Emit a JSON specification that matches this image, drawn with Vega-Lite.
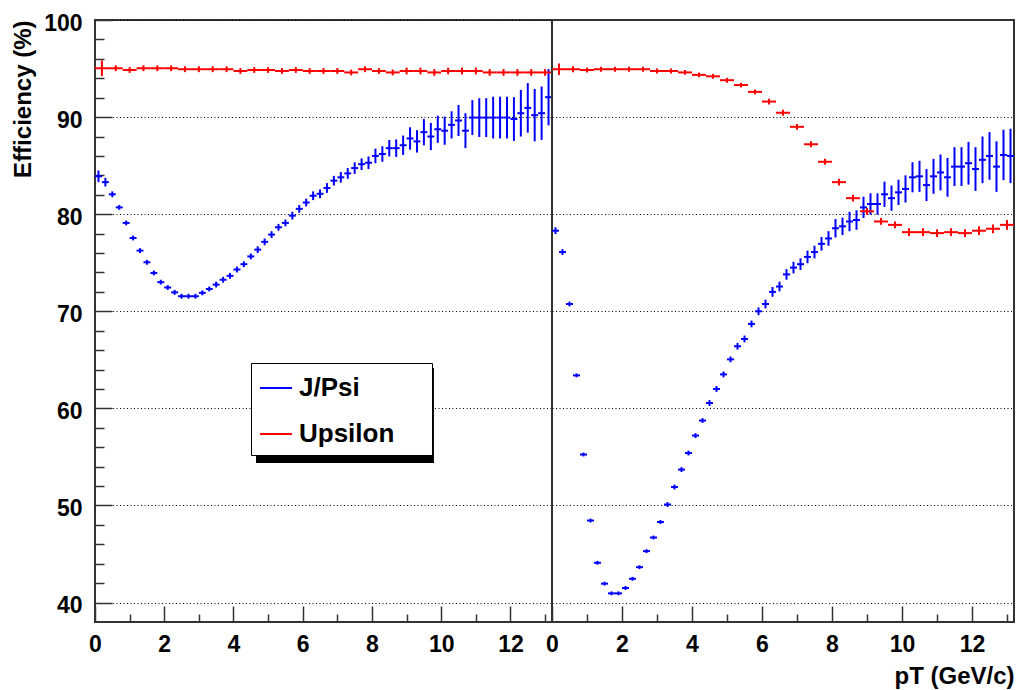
{
  "$schema": "https://vega.github.io/schema/vega-lite/v6.json",
  "background": "white",
  "padding": {"left": 10, "top": 11, "right": 0, "bottom": 0},
  "spacing": 0,
  "bounds": "flush",
  "datasets": {
    "left": [
      {"s": "Upsilon", "pt": 0.2, "eff": 95.03, "err": 0.8},
      {"s": "Upsilon", "pt": 0.6, "eff": 95.03, "err": 0.3},
      {"s": "Upsilon", "pt": 1.0, "eff": 94.85, "err": 0.3},
      {"s": "Upsilon", "pt": 1.4, "eff": 95.03, "err": 0.3},
      {"s": "Upsilon", "pt": 1.8, "eff": 95.03, "err": 0.3},
      {"s": "Upsilon", "pt": 2.2, "eff": 95.03, "err": 0.3},
      {"s": "Upsilon", "pt": 2.6, "eff": 94.93, "err": 0.3},
      {"s": "Upsilon", "pt": 3.0, "eff": 94.93, "err": 0.3},
      {"s": "Upsilon", "pt": 3.4, "eff": 94.93, "err": 0.3},
      {"s": "Upsilon", "pt": 3.8, "eff": 94.93, "err": 0.3},
      {"s": "Upsilon", "pt": 4.2, "eff": 94.75, "err": 0.3},
      {"s": "Upsilon", "pt": 4.6, "eff": 94.85, "err": 0.3},
      {"s": "Upsilon", "pt": 5.0, "eff": 94.85, "err": 0.3},
      {"s": "Upsilon", "pt": 5.4, "eff": 94.75, "err": 0.3},
      {"s": "Upsilon", "pt": 5.8, "eff": 94.85, "err": 0.3},
      {"s": "Upsilon", "pt": 6.2, "eff": 94.75, "err": 0.3},
      {"s": "Upsilon", "pt": 6.6, "eff": 94.75, "err": 0.3},
      {"s": "Upsilon", "pt": 7.0, "eff": 94.75, "err": 0.3},
      {"s": "Upsilon", "pt": 7.4, "eff": 94.6, "err": 0.3},
      {"s": "Upsilon", "pt": 7.8, "eff": 94.93, "err": 0.3},
      {"s": "Upsilon", "pt": 8.2, "eff": 94.75, "err": 0.3},
      {"s": "Upsilon", "pt": 8.6, "eff": 94.6, "err": 0.3},
      {"s": "Upsilon", "pt": 9.0, "eff": 94.75, "err": 0.35},
      {"s": "Upsilon", "pt": 9.4, "eff": 94.75, "err": 0.35},
      {"s": "Upsilon", "pt": 9.8, "eff": 94.6, "err": 0.35},
      {"s": "Upsilon", "pt": 10.2, "eff": 94.75, "err": 0.35},
      {"s": "Upsilon", "pt": 10.6, "eff": 94.75, "err": 0.35},
      {"s": "Upsilon", "pt": 11.0, "eff": 94.75, "err": 0.35},
      {"s": "Upsilon", "pt": 11.4, "eff": 94.6, "err": 0.35},
      {"s": "Upsilon", "pt": 11.8, "eff": 94.6, "err": 0.35},
      {"s": "Upsilon", "pt": 12.2, "eff": 94.6, "err": 0.35},
      {"s": "Upsilon", "pt": 12.6, "eff": 94.6, "err": 0.35},
      {"s": "Upsilon", "pt": 13.0, "eff": 94.6, "err": 0.35},
      {"s": "J/Psi", "pt": 0.1, "eff": 83.9, "err": 0.6},
      {"s": "J/Psi", "pt": 0.3, "eff": 83.3, "err": 0.45},
      {"s": "J/Psi", "pt": 0.5, "eff": 82.05, "err": 0.3},
      {"s": "J/Psi", "pt": 0.7, "eff": 80.7, "err": 0.25},
      {"s": "J/Psi", "pt": 0.9, "eff": 79.1, "err": 0.25},
      {"s": "J/Psi", "pt": 1.1, "eff": 77.55, "err": 0.25},
      {"s": "J/Psi", "pt": 1.3, "eff": 76.25, "err": 0.25},
      {"s": "J/Psi", "pt": 1.5, "eff": 75.05, "err": 0.25},
      {"s": "J/Psi", "pt": 1.7, "eff": 73.95, "err": 0.25},
      {"s": "J/Psi", "pt": 1.9, "eff": 73.0, "err": 0.25},
      {"s": "J/Psi", "pt": 2.1, "eff": 72.45, "err": 0.25},
      {"s": "J/Psi", "pt": 2.3, "eff": 71.95, "err": 0.25},
      {"s": "J/Psi", "pt": 2.5, "eff": 71.55, "err": 0.25},
      {"s": "J/Psi", "pt": 2.7, "eff": 71.55, "err": 0.25},
      {"s": "J/Psi", "pt": 2.9, "eff": 71.55, "err": 0.25},
      {"s": "J/Psi", "pt": 3.1, "eff": 71.9, "err": 0.25},
      {"s": "J/Psi", "pt": 3.3, "eff": 72.3, "err": 0.25},
      {"s": "J/Psi", "pt": 3.5, "eff": 72.75, "err": 0.3},
      {"s": "J/Psi", "pt": 3.7, "eff": 73.25, "err": 0.3},
      {"s": "J/Psi", "pt": 3.9, "eff": 73.65, "err": 0.3},
      {"s": "J/Psi", "pt": 4.1, "eff": 74.3, "err": 0.3},
      {"s": "J/Psi", "pt": 4.3, "eff": 74.85, "err": 0.3},
      {"s": "J/Psi", "pt": 4.5, "eff": 75.65, "err": 0.3},
      {"s": "J/Psi", "pt": 4.7, "eff": 76.35, "err": 0.35},
      {"s": "J/Psi", "pt": 4.9, "eff": 77.15, "err": 0.35},
      {"s": "J/Psi", "pt": 5.1, "eff": 77.9, "err": 0.35},
      {"s": "J/Psi", "pt": 5.3, "eff": 78.65, "err": 0.35},
      {"s": "J/Psi", "pt": 5.5, "eff": 79.1, "err": 0.35},
      {"s": "J/Psi", "pt": 5.7, "eff": 79.85, "err": 0.4},
      {"s": "J/Psi", "pt": 5.9, "eff": 80.55, "err": 0.4},
      {"s": "J/Psi", "pt": 6.1, "eff": 81.2, "err": 0.4},
      {"s": "J/Psi", "pt": 6.3, "eff": 81.9, "err": 0.45},
      {"s": "J/Psi", "pt": 6.5, "eff": 82.1, "err": 0.45},
      {"s": "J/Psi", "pt": 6.7, "eff": 82.7, "err": 0.5},
      {"s": "J/Psi", "pt": 6.9, "eff": 83.45, "err": 0.5},
      {"s": "J/Psi", "pt": 7.1, "eff": 83.8, "err": 0.55},
      {"s": "J/Psi", "pt": 7.3, "eff": 84.2, "err": 0.55},
      {"s": "J/Psi", "pt": 7.5, "eff": 84.75, "err": 0.6},
      {"s": "J/Psi", "pt": 7.7, "eff": 85.15, "err": 0.6},
      {"s": "J/Psi", "pt": 7.9, "eff": 85.3, "err": 0.65},
      {"s": "J/Psi", "pt": 8.1, "eff": 86.0, "err": 0.75},
      {"s": "J/Psi", "pt": 8.3, "eff": 86.2, "err": 0.8},
      {"s": "J/Psi", "pt": 8.5, "eff": 86.8, "err": 0.85},
      {"s": "J/Psi", "pt": 8.7, "eff": 86.8, "err": 0.9},
      {"s": "J/Psi", "pt": 8.9, "eff": 87.1, "err": 1.0},
      {"s": "J/Psi", "pt": 9.1, "eff": 87.8, "err": 1.15},
      {"s": "J/Psi", "pt": 9.3, "eff": 87.5, "err": 1.15},
      {"s": "J/Psi", "pt": 9.5, "eff": 88.45, "err": 1.35},
      {"s": "J/Psi", "pt": 9.7, "eff": 88.0, "err": 1.4},
      {"s": "J/Psi", "pt": 9.9, "eff": 88.75, "err": 1.4},
      {"s": "J/Psi", "pt": 10.1, "eff": 88.6, "err": 1.45},
      {"s": "J/Psi", "pt": 10.3, "eff": 89.2, "err": 1.4},
      {"s": "J/Psi", "pt": 10.5, "eff": 89.65, "err": 1.6},
      {"s": "J/Psi", "pt": 10.7, "eff": 88.6, "err": 1.8},
      {"s": "J/Psi", "pt": 10.9, "eff": 89.95, "err": 1.8},
      {"s": "J/Psi", "pt": 11.1, "eff": 89.95, "err": 2.0},
      {"s": "J/Psi", "pt": 11.3, "eff": 89.95, "err": 2.0},
      {"s": "J/Psi", "pt": 11.5, "eff": 89.95, "err": 2.15},
      {"s": "J/Psi", "pt": 11.7, "eff": 89.95, "err": 2.15},
      {"s": "J/Psi", "pt": 11.9, "eff": 89.95, "err": 2.15},
      {"s": "J/Psi", "pt": 12.1, "eff": 89.8, "err": 2.25},
      {"s": "J/Psi", "pt": 12.3, "eff": 90.4, "err": 2.4},
      {"s": "J/Psi", "pt": 12.5, "eff": 90.95, "err": 2.55},
      {"s": "J/Psi", "pt": 12.7, "eff": 90.2, "err": 2.7},
      {"s": "J/Psi", "pt": 12.9, "eff": 90.4, "err": 2.75},
      {"s": "J/Psi", "pt": 13.1, "eff": 92.05, "err": 2.9}
    ],
    "right": [
      {"s": "Upsilon", "pt": 0.2, "eff": 94.93, "err": 0.6},
      {"s": "Upsilon", "pt": 0.6, "eff": 94.93, "err": 0.3},
      {"s": "Upsilon", "pt": 1.0, "eff": 94.85, "err": 0.25},
      {"s": "Upsilon", "pt": 1.4, "eff": 94.93, "err": 0.25},
      {"s": "Upsilon", "pt": 1.8, "eff": 94.93, "err": 0.25},
      {"s": "Upsilon", "pt": 2.2, "eff": 94.93, "err": 0.25},
      {"s": "Upsilon", "pt": 2.6, "eff": 94.93, "err": 0.25},
      {"s": "Upsilon", "pt": 3.0, "eff": 94.75, "err": 0.25},
      {"s": "Upsilon", "pt": 3.4, "eff": 94.75, "err": 0.25},
      {"s": "Upsilon", "pt": 3.8, "eff": 94.6, "err": 0.25},
      {"s": "Upsilon", "pt": 4.2, "eff": 94.35, "err": 0.25},
      {"s": "Upsilon", "pt": 4.6, "eff": 94.2, "err": 0.25},
      {"s": "Upsilon", "pt": 5.0, "eff": 93.8, "err": 0.25},
      {"s": "Upsilon", "pt": 5.4, "eff": 93.3, "err": 0.25},
      {"s": "Upsilon", "pt": 5.8, "eff": 92.6, "err": 0.25},
      {"s": "Upsilon", "pt": 6.2, "eff": 91.6, "err": 0.3},
      {"s": "Upsilon", "pt": 6.6, "eff": 90.45, "err": 0.3},
      {"s": "Upsilon", "pt": 7.0, "eff": 89.0, "err": 0.3},
      {"s": "Upsilon", "pt": 7.4, "eff": 87.2, "err": 0.3},
      {"s": "Upsilon", "pt": 7.8, "eff": 85.4, "err": 0.3},
      {"s": "Upsilon", "pt": 8.2, "eff": 83.3, "err": 0.35},
      {"s": "Upsilon", "pt": 8.6, "eff": 81.65, "err": 0.35},
      {"s": "Upsilon", "pt": 9.0, "eff": 80.3, "err": 0.35},
      {"s": "Upsilon", "pt": 9.4, "eff": 79.25, "err": 0.35},
      {"s": "Upsilon", "pt": 9.8, "eff": 78.9, "err": 0.35},
      {"s": "Upsilon", "pt": 10.2, "eff": 78.15, "err": 0.4},
      {"s": "Upsilon", "pt": 10.6, "eff": 78.15, "err": 0.4},
      {"s": "Upsilon", "pt": 11.0, "eff": 78.05, "err": 0.4},
      {"s": "Upsilon", "pt": 11.4, "eff": 78.15, "err": 0.4},
      {"s": "Upsilon", "pt": 11.8, "eff": 78.05, "err": 0.4},
      {"s": "Upsilon", "pt": 12.2, "eff": 78.3, "err": 0.45},
      {"s": "Upsilon", "pt": 12.6, "eff": 78.5, "err": 0.45},
      {"s": "Upsilon", "pt": 13.0, "eff": 78.9, "err": 0.5},
      {"s": "J/Psi", "pt": 0.1, "eff": 78.3, "err": 0.35},
      {"s": "J/Psi", "pt": 0.3, "eff": 76.1, "err": 0.3},
      {"s": "J/Psi", "pt": 0.5, "eff": 70.75, "err": 0.25},
      {"s": "J/Psi", "pt": 0.7, "eff": 63.4, "err": 0.2},
      {"s": "J/Psi", "pt": 0.9, "eff": 55.25, "err": 0.2},
      {"s": "J/Psi", "pt": 1.1, "eff": 48.45, "err": 0.2},
      {"s": "J/Psi", "pt": 1.3, "eff": 44.1, "err": 0.2},
      {"s": "J/Psi", "pt": 1.5, "eff": 41.95, "err": 0.2},
      {"s": "J/Psi", "pt": 1.7, "eff": 40.95, "err": 0.2},
      {"s": "J/Psi", "pt": 1.9, "eff": 40.95, "err": 0.2},
      {"s": "J/Psi", "pt": 2.1, "eff": 41.5, "err": 0.2},
      {"s": "J/Psi", "pt": 2.3, "eff": 42.45, "err": 0.2},
      {"s": "J/Psi", "pt": 2.5, "eff": 43.65, "err": 0.2},
      {"s": "J/Psi", "pt": 2.7, "eff": 45.3, "err": 0.2},
      {"s": "J/Psi", "pt": 2.9, "eff": 46.7, "err": 0.2},
      {"s": "J/Psi", "pt": 3.1, "eff": 48.3, "err": 0.2},
      {"s": "J/Psi", "pt": 3.3, "eff": 50.1, "err": 0.25},
      {"s": "J/Psi", "pt": 3.5, "eff": 51.9, "err": 0.25},
      {"s": "J/Psi", "pt": 3.7, "eff": 53.7, "err": 0.25},
      {"s": "J/Psi", "pt": 3.9, "eff": 55.4, "err": 0.25},
      {"s": "J/Psi", "pt": 4.1, "eff": 57.2, "err": 0.25},
      {"s": "J/Psi", "pt": 4.3, "eff": 58.75, "err": 0.25},
      {"s": "J/Psi", "pt": 4.5, "eff": 60.55, "err": 0.3},
      {"s": "J/Psi", "pt": 4.7, "eff": 62.0, "err": 0.3},
      {"s": "J/Psi", "pt": 4.9, "eff": 63.5, "err": 0.3},
      {"s": "J/Psi", "pt": 5.1, "eff": 65.05, "err": 0.3},
      {"s": "J/Psi", "pt": 5.3, "eff": 66.4, "err": 0.35},
      {"s": "J/Psi", "pt": 5.5, "eff": 67.15, "err": 0.35},
      {"s": "J/Psi", "pt": 5.7, "eff": 68.7, "err": 0.35},
      {"s": "J/Psi", "pt": 5.9, "eff": 70.0, "err": 0.4},
      {"s": "J/Psi", "pt": 6.1, "eff": 70.75, "err": 0.45},
      {"s": "J/Psi", "pt": 6.3, "eff": 72.0, "err": 0.5},
      {"s": "J/Psi", "pt": 6.5, "eff": 72.55, "err": 0.5},
      {"s": "J/Psi", "pt": 6.7, "eff": 73.8, "err": 0.55},
      {"s": "J/Psi", "pt": 6.9, "eff": 74.5, "err": 0.6},
      {"s": "J/Psi", "pt": 7.1, "eff": 74.85, "err": 0.6},
      {"s": "J/Psi", "pt": 7.3, "eff": 75.6, "err": 0.65},
      {"s": "J/Psi", "pt": 7.5, "eff": 76.1, "err": 0.65},
      {"s": "J/Psi", "pt": 7.7, "eff": 76.95, "err": 0.7},
      {"s": "J/Psi", "pt": 7.9, "eff": 77.5, "err": 0.75},
      {"s": "J/Psi", "pt": 8.1, "eff": 78.55, "err": 0.95},
      {"s": "J/Psi", "pt": 8.3, "eff": 78.75, "err": 0.9},
      {"s": "J/Psi", "pt": 8.5, "eff": 79.25, "err": 1.0},
      {"s": "J/Psi", "pt": 8.7, "eff": 79.4, "err": 1.0},
      {"s": "J/Psi", "pt": 8.9, "eff": 80.7, "err": 1.1},
      {"s": "J/Psi", "pt": 9.1, "eff": 81.05, "err": 1.1},
      {"s": "J/Psi", "pt": 9.3, "eff": 81.05, "err": 1.1},
      {"s": "J/Psi", "pt": 9.5, "eff": 82.05, "err": 1.3},
      {"s": "J/Psi", "pt": 9.7, "eff": 81.65, "err": 1.3},
      {"s": "J/Psi", "pt": 9.9, "eff": 82.25, "err": 1.3},
      {"s": "J/Psi", "pt": 10.1, "eff": 82.6, "err": 1.4},
      {"s": "J/Psi", "pt": 10.3, "eff": 83.8, "err": 1.55},
      {"s": "J/Psi", "pt": 10.5, "eff": 83.9, "err": 1.6},
      {"s": "J/Psi", "pt": 10.7, "eff": 83.0, "err": 1.65},
      {"s": "J/Psi", "pt": 10.9, "eff": 83.9, "err": 1.8},
      {"s": "J/Psi", "pt": 11.1, "eff": 84.3, "err": 1.85},
      {"s": "J/Psi", "pt": 11.3, "eff": 83.8, "err": 2.0},
      {"s": "J/Psi", "pt": 11.5, "eff": 84.9, "err": 2.0},
      {"s": "J/Psi", "pt": 11.7, "eff": 84.9, "err": 2.0},
      {"s": "J/Psi", "pt": 11.9, "eff": 85.25, "err": 2.2},
      {"s": "J/Psi", "pt": 12.1, "eff": 84.65, "err": 2.25},
      {"s": "J/Psi", "pt": 12.3, "eff": 85.6, "err": 2.4},
      {"s": "J/Psi", "pt": 12.5, "eff": 86.0, "err": 2.45},
      {"s": "J/Psi", "pt": 12.7, "eff": 84.9, "err": 2.6},
      {"s": "J/Psi", "pt": 12.9, "eff": 86.1, "err": 2.6},
      {"s": "J/Psi", "pt": 13.1, "eff": 86.0, "err": 2.8}
    ]
  },
  "hconcat": [
    {
      "width": 457,
      "height": 602,
      "data": {"name": "left"},
      "transform": [
        {"calculate": "datum.eff - datum.err", "as": "lo"},
        {"calculate": "datum.eff + datum.err", "as": "hi"},
        {"calculate": "datum.pt - (datum.s == 'Upsilon' ? 0.2 : 0.1)", "as": "x0"},
        {"calculate": "datum.pt + (datum.s == 'Upsilon' ? 0.2 : 0.1)", "as": "x1"}
      ],
      "layer": [
        {
          "mark": {"type": "rule", "strokeWidth": 2},
          "encoding": {
            "x": {
              "field": "pt", "type": "quantitative",
              "scale": {"domain": [0, 13.2], "nice": false, "zero": false},
              "axis": {
                "title": null,
                "tickCount": 200,
                "format": "d",
                "values": [0, 0.5, 1, 1.5, 2, 2.5, 3, 3.5, 4, 4.5, 5, 5.5, 6, 6.5, 7, 7.5, 8, 8.5, 9, 9.5, 10, 10.5, 11, 11.5, 12, 12.5, 13],
                "labelExpr": "datum.value % 2 == 0 ? datum.label : ''",
                "tickSize": {"condition": {"test": "datum.value % 2 == 0", "value": -16}, "value": -8},
                "labelPadding": 27,
                "labelOverlap": false,
                "grid": false
              }
            },
            "y": {
              "field": "lo", "type": "quantitative",
              "scale": {"domain": [38, 100], "nice": false, "zero": false},
              "axis": {
                "title": "Efficiency (%)",
                "titleFontSize": 24,
                "titleAnchor": "end",
                "titlePadding": 8,
                "tickCount": 200,
                "format": "d",
                "values": [40, 42, 44, 46, 48, 50, 52, 54, 56, 58, 60, 62, 64, 66, 68, 70, 72, 74, 76, 78, 80, 82, 84, 86, 88, 90, 92, 94, 96, 98, 100],
                "labelExpr": "datum.value % 10 == 0 ? datum.label : ''",
                "tickSize": {"condition": {"test": "datum.value % 10 == 0", "value": -17}, "value": -9},
                "labelPadding": 30,
                "labelOffset": 3,
                "labelOverlap": false,
                "grid": true,
                "gridOpacity": {"condition": {"test": "datum.value % 10 == 0", "value": 1}, "value": 0}
              }
            },
            "y2": {"field": "hi"},
            "color": {
              "field": "s", "type": "nominal",
              "scale": {"domain": ["J/Psi", "Upsilon"], "range": ["#0000ff", "#ff0000"]},
              "legend": {
                "title": null,
                "orient": "none",
                "legendX": 156,
                "legendY": 343,
                "symbolType": "stroke",
                "symbolSize": 1024,
                "symbolStrokeWidth": 2,
                "labelFontSize": 26,
                "labelFontWeight": "bold",
                "labelFont": "Liberation Sans",
                "labelColor": "black",
                "labelOffset": 6,
                "labelExpr": "datum.label + '\u00a0\u00a0\u00a0\u00a0\u200b'",
                "strokeColor": "black",
                "fillColor": "white",
                "padding": 8,
                "rowPadding": 16
              }
            }
          }
        },
        {
          "mark": {"type": "rule", "strokeWidth": 2},
          "encoding": {
            "x": {"field": "x0", "type": "quantitative"},
            "x2": {"field": "x1"},
            "y": {"field": "eff", "type": "quantitative"},
            "color": {"field": "s", "type": "nominal"}
          }
        },
        {
          "data": {"values": [{}]},
          "mark": {"type": "rect", "color": "black"},
          "encoding": {
            "x": {"datum": 4.65, "type": "quantitative"},
            "x2": {"datum": 9.79},
            "y": {"datum": 64.16, "type": "quantitative"},
            "y2": {"datum": 54.38}
          }
        }
      ]
    },
    {
      "width": 462,
      "height": 602,
      "data": {"name": "right"},
      "transform": [
        {"calculate": "datum.eff - datum.err", "as": "lo"},
        {"calculate": "datum.eff + datum.err", "as": "hi"},
        {"calculate": "datum.pt - (datum.s == 'Upsilon' ? 0.2 : 0.1)", "as": "x0"},
        {"calculate": "datum.pt + (datum.s == 'Upsilon' ? 0.2 : 0.1)", "as": "x1"}
      ],
      "layer": [
        {
          "mark": {"type": "rule", "strokeWidth": 2},
          "encoding": {
            "x": {
              "field": "pt", "type": "quantitative",
              "scale": {"domain": [0, 13.2], "nice": false, "zero": false},
              "axis": {
                "title": "pT (GeV/c)",
                "titleFontSize": 24,
                "titleAnchor": "end",
                "titlePadding": 0,
                "tickCount": 200,
                "format": "d",
                "values": [0, 0.5, 1, 1.5, 2, 2.5, 3, 3.5, 4, 4.5, 5, 5.5, 6, 6.5, 7, 7.5, 8, 8.5, 9, 9.5, 10, 10.5, 11, 11.5, 12, 12.5, 13],
                "labelExpr": "datum.value % 2 == 0 ? datum.label : ''",
                "tickSize": {"condition": {"test": "datum.value % 2 == 0", "value": -16}, "value": -8},
                "labelPadding": 27,
                "labelOverlap": false,
                "grid": false
              }
            },
            "y": {
              "field": "lo", "type": "quantitative",
              "scale": {"domain": [38, 100], "nice": false, "zero": false},
              "axis": {
                "title": null,
                "tickCount": 200,
                "format": "d",
                "values": [40, 50, 60, 70, 80, 90],
                "labels": false,
                "ticks": false,
                "grid": true
              }
            },
            "y2": {"field": "hi"},
            "color": {"field": "s", "type": "nominal"}
          }
        },
        {
          "mark": {"type": "rule", "strokeWidth": 2},
          "encoding": {
            "x": {"field": "x0", "type": "quantitative"},
            "x2": {"field": "x1"},
            "y": {"field": "eff", "type": "quantitative"},
            "color": {"field": "s", "type": "nominal"}
          }
        }
      ]
    }
  ],
  "config": {
    "font": "Liberation Sans",
    "view": {"stroke": "#333333", "strokeWidth": 2},
    "axis": {
      "labelFont": "Liberation Sans",
      "labelFontWeight": "bold",
      "labelFontSize": 23,
      "labelColor": "black",
      "titleFont": "Liberation Sans",
      "titleFontWeight": "bold",
      "titleColor": "black",
      "tickColor": "#333333",
      "tickWidth": 1.5,
      "domain": false,
      "labelFlush": false,
      "labelOverlap": false,
      "labelBound": false,
      "gridColor": "black",
      "gridDash": [1, 2.5],
      "gridWidth": 1
    }
  }
}
